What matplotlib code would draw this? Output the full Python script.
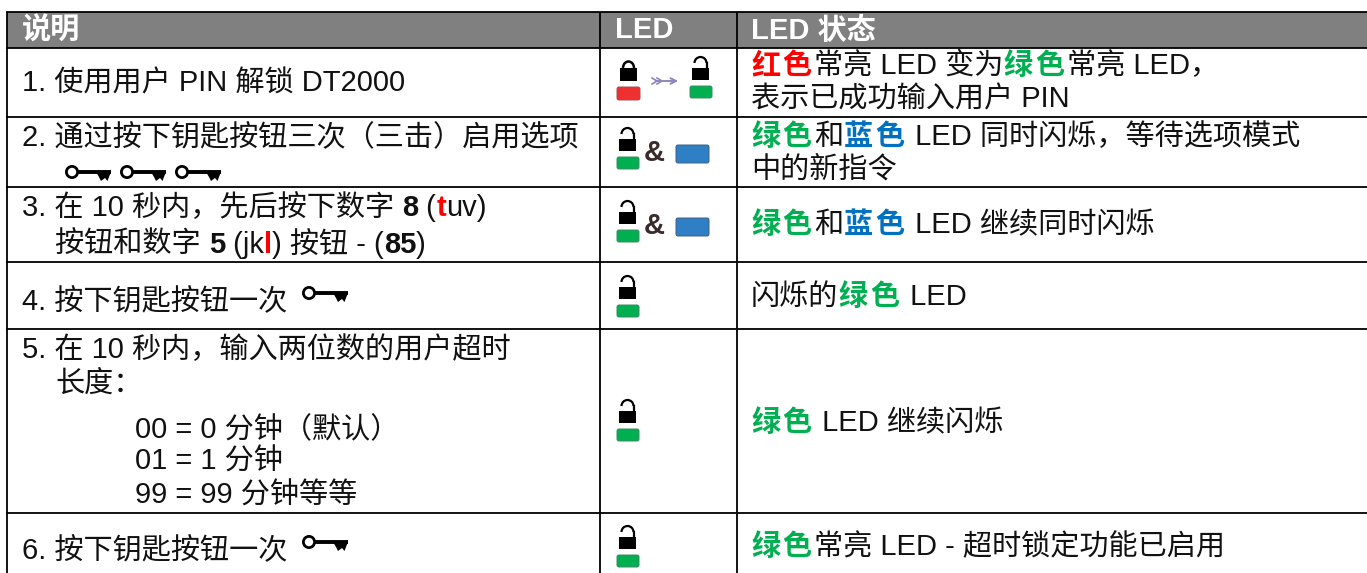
import matplotlib
matplotlib.use('Agg')
import matplotlib.pyplot as plt
from matplotlib.patches import Rectangle, FancyBboxPatch, Circle, Polygon, Arc

plt.rcParams['font.family'] = ['Liberation Sans', 'Noto Sans CJK SC']

RED = '#ff0000'
GREEN = '#00b050'
BLUE = '#0070c0'
BLACK = '#111111'
FONT_SIZE = 21
TRACKING = 2.5  # extra px between the coloured bold CJK characters

headers = [('说明', 22), ('LED', 615), ('LED 状态', 751)]
col_lines = [6.5, 600, 737]
row_lines = [12, 48, 117, 187, 262, 329, 513]


# each text run: (text, color, bold)
def n(s):
    return (s, BLACK, False)


def b(s):
    return (s, BLACK, True)


def c(s, color):
    return (s, color, True)


step_lines = [
    (22, 92, [n('1. 使用用户 PIN 解锁 DT2000')]),
    (22, 146, [n('2. 通过按下钥匙按钮三次（三击）启用选项')]),
    (22, 216, [n('3. 在 10 秒内，先后按下数字 '), b('8'), n(' ('), c('t', RED), n('uv)')]),
    (55, 253, [n('按钮和数字 '), b('5'), n(' (jk'), c('l', RED), n(') 按钮 - ('), b('85'), n(')')]),
    (22, 310, [n('4. 按下钥匙按钮一次')]),
    (22, 358, [n('5. 在 10 秒内，输入两位数的用户超时')]),
    (55, 392, [n('长度：')]),
    (135, 438, [n('00 = 0 分钟（默认）')]),
    (135, 470, [n('01 = 1 分钟')]),
    (135, 504, [n('99 = 99 分钟等等')]),
    (22, 559, [n('6. 按下钥匙按钮一次')]),
]

state_lines = [
    (751, 74, [c('红色', RED), n('常亮 LED 变为'), c('绿色', GREEN), n('常亮 LED，')]),
    (751, 108, [n('表示已成功输入用户 PIN')]),
    (751, 145, [c('绿色', GREEN), n('和'), c('蓝色', BLUE), n(' LED 同时闪烁，等待选项模式')]),
    (751, 178, [n('中的新指令')]),
    (751, 233, [c('绿色', GREEN), n('和'), c('蓝色', BLUE), n(' LED 继续同时闪烁')]),
    (751, 305, [n('闪烁的'), c('绿色', GREEN), n(' LED')]),
    (751, 431, [c('绿色', GREEN), n(' LED 继续闪烁')]),
    (751, 555, [c('绿色', GREEN), n('常亮 LED - 超时锁定功能已启用')]),
]

open_lock_tops = [127, 200, 275, 399, 525]
blue_led_tops = [145, 218]
key_spots = [(72, 172), (127, 172), (182, 172), (309, 293), (309, 542)]

fig = plt.figure(figsize=(13.67, 5.73), dpi=100)
ax = fig.add_axes([0, 0, 1, 1])
ax.set_xlim(0, 1367)
ax.set_ylim(573, 0)
ax.axis('off')


def run_width(s, size, weight):
    rend = fig.canvas.get_renderer()
    # guard bars so leading/trailing spaces count in the width
    g = ax.text(0, 0, '|' + s + '|', fontsize=size, fontweight=weight)
    g0 = ax.text(0, 0, '||', fontsize=size, fontweight=weight)
    w = g.get_window_extent(rend).width - g0.get_window_extent(rend).width
    g.remove()
    g0.remove()
    return w


def draw_runs(x, y, runs, size=FONT_SIZE):
    for s, color, bold in runs:
        weight = 'bold' if bold else 'normal'
        if bold and len(s) == 2 and not s.isdigit():
            for ch in s:
                ax.text(x, y, ch, color=color, fontsize=size, va='baseline', ha='left', fontweight=weight)
                x += run_width(ch, size, weight) + TRACKING
        else:
            ax.text(x, y, s, color=color, fontsize=size, va='baseline', ha='left', fontweight=weight)
            x += run_width(s, size, weight)


def led(x0, y0, w, h, color, edge):
    ax.add_patch(FancyBboxPatch((x0 + 2, y0 + 2), w - 4, h - 4, boxstyle='round,pad=2',
                                fc=color, ec=edge, lw=0.7, zorder=3))


def lock_open(top, x0=619):
    ax.add_patch(Rectangle((x0, top + 12), 17, 12, fc='black', ec='none', zorder=3))
    ax.add_patch(Arc((x0 + 8.5, top + 7), 12, 12, theta1=180, theta2=360, lw=1.6, color='black', zorder=3))
    ax.plot([x0 + 14.5, x0 + 14.5], [top + 7, top + 13], color='black', lw=1.6, zorder=3)
    led(x0 - 2, top + 30, 22, 12, GREEN, '#3c8a62')


def lock_closed(x0=620, top=61):
    ax.add_patch(Rectangle((x0, top + 7), 17, 13, fc='black', ec='none', zorder=3))
    ax.add_patch(Arc((x0 + 8.5, top + 7), 11, 13, theta1=180, theta2=360, lw=1.8, color='black', zorder=3))
    led(x0 - 3, top + 26, 23, 13, '#ee3030', '#a05050')


def key(x, y):
    ax.add_patch(Circle((x, y), 5.6, fc='white', ec='black', lw=2, zorder=3))
    ax.plot([x + 6, x + 39], [y, y], color='black', lw=2.8, zorder=3, solid_capstyle='butt')
    ax.add_patch(Polygon([(x + 24, y), (x + 39, y), (x + 37, y + 5), (x + 35.5, y + 9),
                          (x + 33, y + 6), (x + 29, y + 9), (x + 27, y + 5)],
                         fc='black', ec='none', zorder=3))


def arrow(x0, x1, y):
    col = '#8f86bd'
    ax.annotate('', xy=(x1, y), xytext=(x0, y),
                arrowprops=dict(arrowstyle='->', color=col, lw=1.4, mutation_scale=10))
    for dx in (0, 5):
        ax.plot([x0 + dx - 1, x0 + dx + 4, x0 + dx - 1], [y - 3, y, y + 3], color=col, lw=1.2)


# header band + grid
ax.add_patch(Rectangle((col_lines[0], row_lines[0]), 1367, row_lines[1] - row_lines[0], fc='#808080', ec='none'))
for yy in row_lines:
    ax.plot([col_lines[0] - 1, 1367], [yy, yy], color='black', lw=1.3, solid_capstyle='butt')
for xx in col_lines:
    ax.plot([xx, xx], [row_lines[0], 573], color='black', lw=1.3, solid_capstyle='butt')

for s, x in headers:
    ax.text(x, 38.5, s, color='white', fontsize=FONT_SIZE, fontweight='bold', va='baseline')

for x, y, runs in step_lines + state_lines:
    draw_runs(x, y, runs)

# icons
lock_closed()
lock_open(56, x0=692)
arrow(653, 681, 81)
for top in open_lock_tops:
    lock_open(top)
for top in blue_led_tops:
    led(676, top, 33, 18, '#2f7fc4', '#3c5f86')
    ax.text(654, top + 16, '&', color='#3a2a2a', fontsize=21, fontweight='bold', ha='center', va='baseline')
for x, y in key_spots:
    key(x, y)

fig.savefig('out.png', dpi=100)
